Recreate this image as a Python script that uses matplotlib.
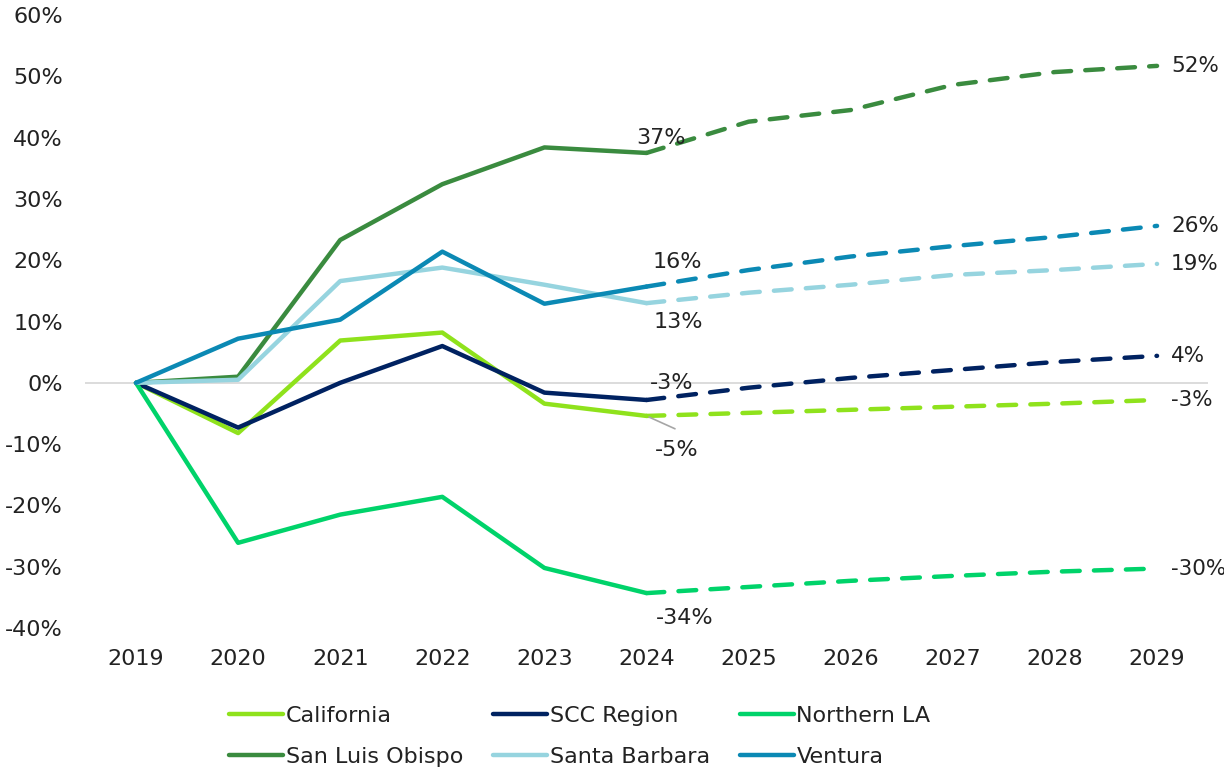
import matplotlib.pyplot as plt

years = [2019, 2020, 2021, 2022, 2023, 2024, 2025, 2026, 2027, 2028, 2029]
last_actual = 2024  # solid up to here, dashed projection afterwards

california = [0, -8.2, 6.9, 8.2, -3.4, -5.4, -4.9, -4.4, -3.9, -3.4, -2.8]
scc_region = [0, -7.3, 0.0, 6.0, -1.6, -2.8, -0.8, 0.8, 2.1, 3.4, 4.4]
northern_la = [0, -26.1, -21.5, -18.6, -30.2, -34.3, -33.3, -32.3, -31.5, -30.8, -30.3]
san_luis_obispo = [0, 1.0, 23.3, 32.4, 38.4, 37.5, 42.6, 44.5, 48.6, 50.7, 51.7]
santa_barbara = [0, 0.5, 16.6, 18.8, 16.0, 13.0, 14.7, 16.0, 17.6, 18.4, 19.4]
ventura = [0, 7.2, 10.3, 21.4, 12.9, 15.7, 18.4, 20.6, 22.3, 23.8, 25.6]

names = ["California", "SCC Region", "Northern LA", "San Luis Obispo", "Santa Barbara", "Ventura"]
series = [california, scc_region, northern_la, san_luis_obispo, santa_barbara, ventura]
colors = ["#8FE21C", "#002261", "#00D36A", "#3A8B3F", "#96D4DF", "#0B89B4"]

# labels at 2024 (text, dx px, dy px) and at 2029
labels_2024 = {
    "San Luis Obispo": ("37%", 14, 15),
    "Ventura": ("16%", 31, 25),
    "Santa Barbara": ("13%", 32, -19),
    "SCC Region": ("-3%", 25, 17),
    "California": ("-5%", 30, -34),
    "Northern LA": ("-34%", 38, -25),
}
labels_2029 = {
    "San Luis Obispo": "52%",
    "Ventura": "26%",
    "Santa Barbara": "19%",
    "SCC Region": "4%",
    "California": "-3%",
    "Northern LA": "-30%",
}

fs = 16
plt.rcParams['font.family'] = ['DejaVu Sans']
fig = plt.figure(figsize=(12.24, 7.74), dpi=100)
ax = fig.add_axes([0.0694, 0.1886, 0.9176, 0.792])

px = 0.72  # points per pixel at dpi 100
cut = years.index(last_actual)
handles = {}
for name, vals, c in zip(names, series, colors):
    h, = ax.plot(years[:cut + 1], vals[:cut + 1], color=c, lw=3.2,
                 solid_capstyle='round', solid_joinstyle='round', label=name)
    ax.plot(years[cut:], vals[cut:], color=c, lw=3.2, dashes=(4.0, 3.2),
            dash_capstyle='round', dash_joinstyle='round')
    handles[name] = h

    txt, dx, dy = labels_2024[name]
    ax.annotate(txt, (years[cut], vals[cut]), xytext=(dx * px, dy * px),
                textcoords='offset points', ha='center', va='center',
                fontsize=fs, color="#222222")
    ax.annotate(labels_2029[name], (years[-1], vals[-1]), xytext=(14 * px, 0),
                textcoords='offset points', ha='left', va='center',
                fontsize=15.5, color="#222222")

# leader line for -5%
ax.annotate("", (years[cut], california[cut]), xytext=(31 * px, -14 * px),
            textcoords='offset points',
            arrowprops=dict(arrowstyle='-', color='#A6A6A6', lw=1.2))

ax.axhline(0, color='#D9D9D9', lw=1.3, zorder=0)
ax.set_xlim(2018.5, 2029.5)
ax.set_ylim(-40, 60)
ax.set_xticks(years)
ax.set_yticks(range(-40, 61, 10))
ax.set_yticklabels([f"{v}%" for v in range(-40, 61, 10)])
ax.tick_params(length=0, labelsize=fs, labelcolor="#222222")
ax.tick_params(axis='y', pad=16)
ax.tick_params(axis='x', pad=15)
for s in ax.spines.values():
    s.set_visible(False)

order = ["California", "San Luis Obispo", "SCC Region", "Santa Barbara", "Northern LA", "Ventura"]
fig.legend([handles[n] for n in order], order, loc='center left',
           bbox_to_anchor=(0.187, 0.049), ncol=3, frameon=False, fontsize=fs,
           handlelength=2.45, handletextpad=0.1, columnspacing=1.35,
           labelspacing=0.95, borderpad=0, borderaxespad=0,
           labelcolor="#222222")

plt.savefig("out.png", dpi=100)
